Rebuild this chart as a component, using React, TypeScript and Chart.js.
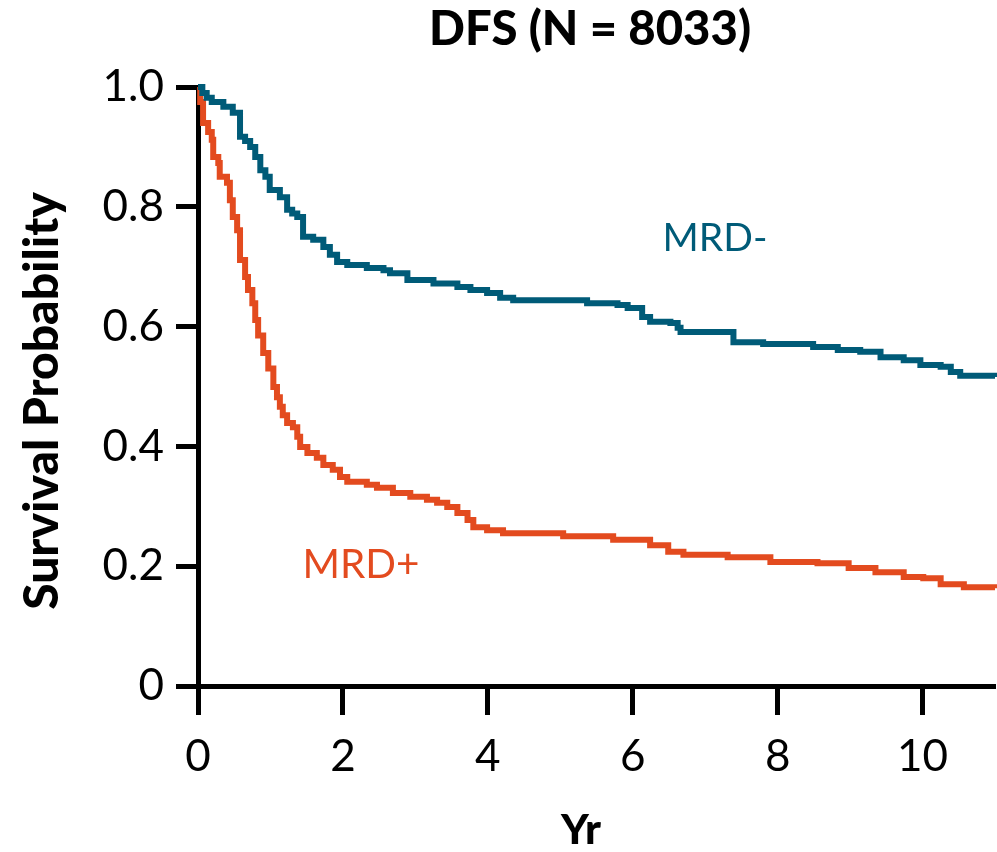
import React, { useEffect, useRef } from "react";
import { Chart, registerables } from "chart.js";

Chart.register(...registerables);

const chartTitle = "DFS (N = 8033)";
const xAxisTitle = "Yr";
const yAxisTitle = "Survival Probability";
const xTicks = [0, 2, 4, 6, 8, 10];
const yTicks = [0, 0.2, 0.4, 0.6, 0.8, 1.0];

const mrdNegLabel = "MRD-";
const mrdNegTime = [0, 0.06, 0.12, 0.19, 0.35, 0.48, 0.58, 0.65, 0.72, 0.79, 0.86, 0.93, 0.99, 1.13, 1.23, 1.3, 1.37, 1.45, 1.59, 1.73, 1.82, 1.92, 2.06, 2.33, 2.56, 2.65, 2.89, 3.25, 3.58, 3.76, 3.99, 4.17, 4.35, 5.37, 5.79, 5.93, 6.13, 6.24, 6.52, 6.62, 6.66, 7.39, 7.8, 8.49, 8.83, 9.14, 9.42, 9.74, 9.97, 10.25, 10.39, 10.52, 11];
const mrdNegSurv = [1.0, 0.99, 0.982, 0.975, 0.967, 0.957, 0.917, 0.91, 0.9, 0.883, 0.861, 0.85, 0.828, 0.816, 0.795, 0.789, 0.783, 0.75, 0.745, 0.733, 0.72, 0.708, 0.703, 0.698, 0.694, 0.689, 0.678, 0.672, 0.666, 0.661, 0.656, 0.648, 0.644, 0.639, 0.636, 0.631, 0.616, 0.608, 0.606, 0.598, 0.591, 0.574, 0.571, 0.566, 0.561, 0.558, 0.549, 0.544, 0.536, 0.533, 0.524, 0.518, 0.516];

const mrdPosLabel = "MRD+";
const mrdPosTime = [0, 0.03, 0.07, 0.14, 0.19, 0.21, 0.28, 0.3, 0.4, 0.44, 0.48, 0.54, 0.58, 0.65, 0.69, 0.75, 0.79, 0.83, 0.9, 0.97, 1.04, 1.09, 1.13, 1.17, 1.23, 1.31, 1.37, 1.41, 1.51, 1.64, 1.73, 1.86, 1.96, 2.06, 2.33, 2.47, 2.69, 2.93, 3.16, 3.3, 3.44, 3.58, 3.72, 3.8, 3.99, 4.21, 5.04, 5.73, 6.24, 6.49, 6.7, 7.31, 7.9, 8.55, 8.98, 9.35, 9.74, 10.01, 10.25, 10.57, 11];
const mrdPosSurv = [1.0, 0.975, 0.94, 0.925, 0.912, 0.883, 0.873, 0.85, 0.84, 0.811, 0.783, 0.761, 0.711, 0.683, 0.661, 0.639, 0.611, 0.585, 0.556, 0.53, 0.499, 0.482, 0.466, 0.452, 0.439, 0.432, 0.416, 0.399, 0.389, 0.381, 0.369, 0.361, 0.349, 0.341, 0.336, 0.331, 0.322, 0.316, 0.311, 0.306, 0.299, 0.289, 0.277, 0.265, 0.26, 0.255, 0.25, 0.244, 0.235, 0.224, 0.219, 0.215, 0.207, 0.205, 0.197, 0.19, 0.182, 0.18, 0.17, 0.165, 0.163];

const TEAL = "#005B78";
const ORANGE = "#E34B1F";
const FONT = "Lato, 'Open Sans', sans-serif";

function fitText(ctx: any, text: string, weight: string, width: number, maxSize: number, x: number, y: number) {
  ctx.font = `${weight} 40px ${FONT}`;
  const w = ctx.measureText(text).width;
  const size = Math.min(maxSize, (40 * width) / w);
  ctx.font = `${weight} ${size}px ${FONT}`;
  ctx.fillText(text, x, y);
}

const textPlugin = {
  id: "texts",
  afterDraw(chart: any) {
    const ctx = chart.ctx;
    ctx.save();
    ctx.textAlign = "center";
    ctx.textBaseline = "middle";
    ctx.fillStyle = "#000";
    fitText(ctx, chartTitle, "900", 322, 48, 590, 30);
    fitText(ctx, xAxisTitle, "900", 40, 48, 581, 830);
    ctx.save();
    ctx.translate(43, 401);
    ctx.rotate(-Math.PI / 2);
    fitText(ctx, yAxisTitle, "900", 436, 48, 0, 0);
    ctx.restore();
    ctx.fillStyle = TEAL;
    fitText(ctx, mrdNegLabel, "normal", 105, 44, 715, 238);
    ctx.fillStyle = ORANGE;
    fitText(ctx, mrdPosLabel, "normal", 117, 44, 361, 565);
    ctx.restore();
  },
};

export default function App() {
  const ref = useRef<HTMLCanvasElement | null>(null);
  useEffect(() => {
    document.body.style.margin = "0";
    const toPts = (t: number[], s: number[]) => t.map((v, i) => ({ x: v, y: s[i] }));
    const chart = new Chart(ref.current!, {
      type: "line",
      data: {
        datasets: [
          {
            label: mrdNegLabel,
            data: toPts(mrdNegTime, mrdNegSurv),
            borderColor: TEAL,
            borderWidth: 6,
            pointRadius: 0,
            stepped: true,
            fill: false,
            clip: 10,
          },
          {
            label: mrdPosLabel,
            data: toPts(mrdPosTime, mrdPosSurv),
            borderColor: ORANGE,
            borderWidth: 6,
            pointRadius: 0,
            stepped: true,
            fill: false,
            clip: 10,
          },
        ],
      },
      plugins: [textPlugin],
      options: {
        animation: false,
        responsive: false,
        devicePixelRatio: 1,
        layout: { padding: { top: 87, right: 2, left: 0, bottom: 0 } },
        plugins: { legend: { display: false }, tooltip: { enabled: false }, title: { display: false } },
        scales: {
          x: {
            type: "linear",
            min: 0,
            max: 11,
            afterFit: (s: any) => { s.height = 166; },
            afterBuildTicks: (s: any) => { s.ticks = xTicks.map((v) => ({ value: v })); },
            border: { display: true, color: "#000", width: 5 },
            grid: { drawOnChartArea: false, drawTicks: true, tickLength: 29, tickWidth: 5, color: "#000" },
            ticks: { font: { family: FONT, size: 44 }, color: "#000", padding: 15, maxRotation: 0, autoSkip: false },
          },
          y: {
            type: "linear",
            min: 0,
            max: 1,
            afterFit: (s: any) => { s.width = 198; },
            afterBuildTicks: (s: any) => { s.ticks = yTicks.map((v) => ({ value: v })); },
            border: { display: true, color: "#000", width: 5 },
            grid: { drawOnChartArea: false, drawTicks: true, tickLength: 22, tickWidth: 5, color: "#000" },
            ticks: {
              font: { family: FONT, size: 44 },
              color: "#000",
              padding: 12,
              autoSkip: false,
              callback: (v: any) => (Number(v) === 0 ? "0" : Number(v).toFixed(1)),
            },
          },
        },
      },
    } as any);
    return () => chart.destroy();
  }, []);
  return (
    <div style={{ width: 997, height: 852 }}>
      <canvas ref={ref} width={997} height={852} style={{ display: "block", width: 997, height: 852 }} />
    </div>
  );
}
